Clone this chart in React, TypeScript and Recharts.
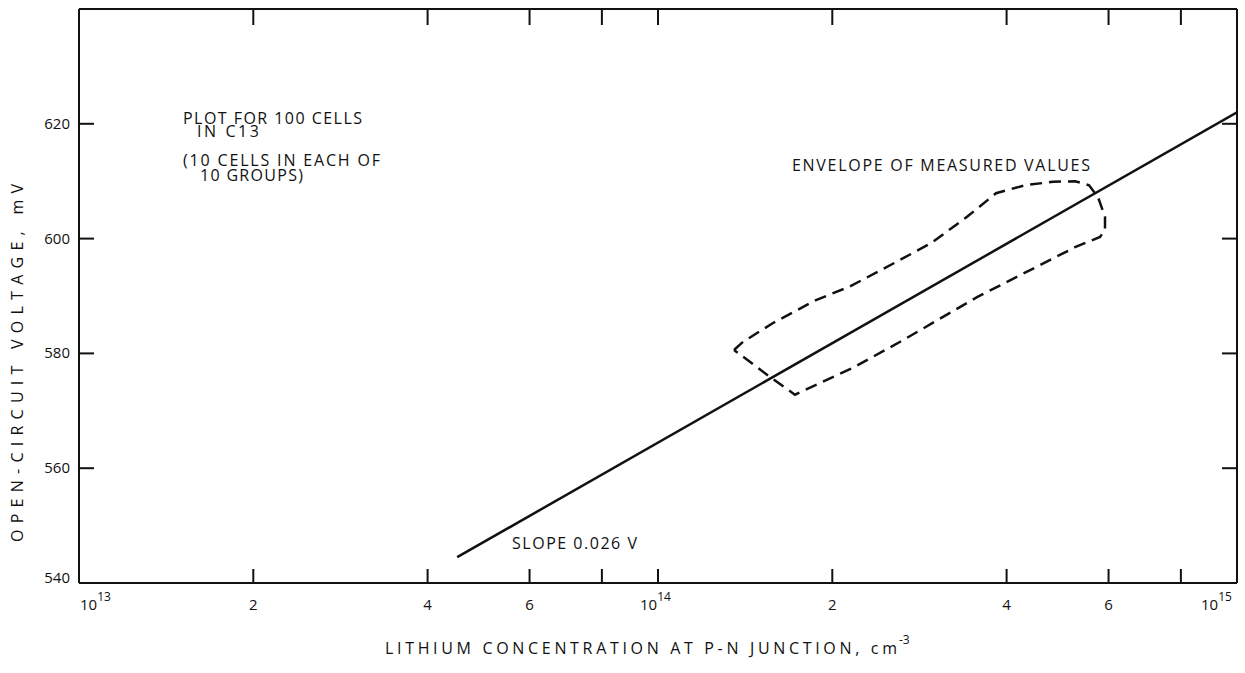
import React from 'react';
import { ComposedChart, Line, XAxis, YAxis } from 'recharts';

// log axis ticks (cm^-3)
const xTicks = [1e13, 2e13, 4e13, 6e13, 8e13, 1e14, 2e14, 4e14, 6e14, 8e14, 1e15];
const xTickLabels = ['10^13', '2', '4', '6', '', '10^14', '2', '4', '6', '', '10^15'];

const yTicks = [540, 560, 580, 600, 620];
const yTickLabels = ['540', '560', '580', '600', '620'];

// slope 0.026 V line
const slopeConc = [4.5e13, 1e15];
const slopeVolt = [544.5, 622];

// dashed envelope, traced clockwise from the left corner
const envelopeConc = [
  1.353e14, 1.402e14, 1.58e14, 1.875e14, 2.138e14, 2.427e14, 2.962e14, 3.418e14, 3.835e14,
  4.304e14, 4.811e14, 5.252e14, 5.553e14, 5.755e14, 5.916e14, 5.916e14, 5.801e14, 5.252e14,
  3.556e14, 2.649e14, 2.172e14, 1.724e14, 1.561e14, 1.353e14,
];
const envelopeVolt = [
  580.6, 582.0, 585.3, 589.3, 591.6, 594.5, 599.2, 603.8, 607.9,
  609.3, 609.9, 610.0, 609.3, 607.2, 603.8, 601.5, 600.3, 598.5,
  589.8, 582.3, 577.5, 572.8, 575.9, 580.6,
];

const slopeData = slopeConc.map((n, i) => ({ n, v: slopeVolt[i] }));
const envelopeData = envelopeConc.map((n, i) => ({ n, v: envelopeVolt[i] }));

const FONT = '"Open Sans", sans-serif';
const INK = '#111';

const BottomTick = (props: any) => {
  const { x, y, payload } = props;
  const i = xTicks.indexOf(payload.value);
  const label = xTickLabels[i] || '';
  const inner = i > 0 && i < xTicks.length - 1;
  let text = null;
  if (label.includes('^')) {
    const [base, exp] = label.split('^');
    const start = i === 0 ? x + 1 : i === xTicks.length - 1 ? x - 36 : x - 18;
    text = (
      <text x={start} y={y + 27} fontFamily={FONT} fontSize={15} fill={INK}>
        <tspan>{base}</tspan>
        <tspan dy={-9} fontSize={12}>{exp}</tspan>
      </text>
    );
  } else if (label) {
    text = (
      <text x={x} y={y + 27} textAnchor="middle" fontFamily={FONT} fontSize={15} fill={INK}>
        {label}
      </text>
    );
  }
  return (
    <g>
      {inner && <line x1={x} y1={y} x2={x} y2={y - 14} stroke={INK} strokeWidth={2} />}
      {text}
    </g>
  );
};

const TopTick = (props: any) => {
  const { x, y, payload } = props;
  const i = xTicks.indexOf(payload.value);
  if (i <= 0 || i >= xTicks.length - 1) return <g />;
  return <line x1={x} y1={y} x2={x} y2={y + 16} stroke={INK} strokeWidth={2} />;
};

const LeftTick = (props: any) => {
  const { x, y, payload } = props;
  const i = yTicks.indexOf(payload.value);
  const isBottom = i === 0;
  return (
    <g>
      {!isBottom && <line x1={x} y1={y} x2={x + 15} y2={y} stroke={INK} strokeWidth={2} />}
      <text x={x - 9} y={isBottom ? y : y + 5} textAnchor="end" fontFamily={FONT} fontSize={15} fill={INK}>
        {yTickLabels[i]}
      </text>
    </g>
  );
};

const RightTick = (props: any) => {
  const { x, y, payload } = props;
  if (payload.value === 540) return <g />;
  return <line x1={x} y1={y} x2={x - 15} y2={y} stroke={INK} strokeWidth={2} />;
};

const XTitle = () => (
  <g fontFamily={FONT} fill={INK}>
    <text x={385} y={654} fontSize={16} textLength={512} lengthAdjust="spacing">
      LITHIUM CONCENTRATION AT P-N JUNCTION, cm
    </text>
    <text x={899} y={644} fontSize={12}>-3</text>
  </g>
);

const YTitle = () => (
  <text
    x={23}
    y={363}
    transform="rotate(-90, 23, 363)"
    textAnchor="middle"
    fontFamily={FONT}
    fontSize={16}
    fill={INK}
    textLength={358}
    lengthAdjust="spacing"
  >
    OPEN-CIRCUIT VOLTAGE, mV
  </text>
);

const Annotations = () => (
  <g fontFamily={FONT} fontSize={16} fill={INK}>
    <text x={183} y={124} textLength={179} lengthAdjust="spacing">PLOT FOR 100 CELLS</text>
    <text x={197} y={137} textLength={62} lengthAdjust="spacing">IN C13</text>
    <text x={183} y={166} textLength={197} lengthAdjust="spacing">(10 CELLS IN EACH OF</text>
    <text x={200} y={181} textLength={103} lengthAdjust="spacing">10 GROUPS)</text>
    <text x={792} y={171} textLength={298} lengthAdjust="spacing">ENVELOPE OF MEASURED VALUES</text>
    <text x={512} y={549} textLength={125} lengthAdjust="spacing">SLOPE 0.026 V</text>
  </g>
);

const App: React.FC = () => {
  return (
    <div style={{ position: 'absolute', left: 0, top: 0, background: '#fff' }}>
      <ComposedChart width={1245} height={673} margin={{ top: 8, right: 7, bottom: 0, left: 78 }}>
        <XAxis
          xAxisId="b"
          type="number"
          dataKey="n"
          scale="log"
          domain={[1e13, 1e15]}
          allowDataOverflow
          ticks={xTicks}
          interval={0}
          tick={<BottomTick />}
          tickLine={false}
          tickSize={0}
          tickMargin={0}
          height={90}
          axisLine={{ stroke: INK, strokeWidth: 2 }}
          label={<XTitle />}
        />
        <XAxis
          xAxisId="t"
          orientation="top"
          type="number"
          dataKey="n"
          scale="log"
          domain={[1e13, 1e15]}
          allowDataOverflow
          ticks={xTicks}
          interval={0}
          tick={<TopTick />}
          tickLine={false}
          tickSize={0}
          tickMargin={0}
          height={1}
          axisLine={{ stroke: INK, strokeWidth: 2 }}
        />
        <YAxis
          yAxisId="l"
          type="number"
          domain={[540, 640]}
          allowDataOverflow
          ticks={yTicks}
          interval={0}
          tick={<LeftTick />}
          tickLine={false}
          tickSize={0}
          tickMargin={0}
          width={1}
          axisLine={{ stroke: INK, strokeWidth: 2 }}
          label={<YTitle />}
        />
        <YAxis
          yAxisId="r"
          orientation="right"
          type="number"
          domain={[540, 640]}
          allowDataOverflow
          ticks={yTicks}
          interval={0}
          tick={<RightTick />}
          tickLine={false}
          tickSize={0}
          tickMargin={0}
          width={1}
          axisLine={{ stroke: INK, strokeWidth: 2 }}
        />
        <Line
          xAxisId="b"
          yAxisId="l"
          data={slopeData}
          dataKey="v"
          type="linear"
          stroke={INK}
          strokeWidth={2.5}
          dot={false}
          activeDot={false}
          isAnimationActive={false}
        />
        <Line
          xAxisId="b"
          yAxisId="l"
          data={envelopeData}
          dataKey="v"
          type="linear"
          stroke={INK}
          strokeWidth={2.5}
          strokeDasharray="12 7"
          dot={false}
          activeDot={false}
          isAnimationActive={false}
        />
        <Annotations />
      </ComposedChart>
    </div>
  );
};

export default App;
